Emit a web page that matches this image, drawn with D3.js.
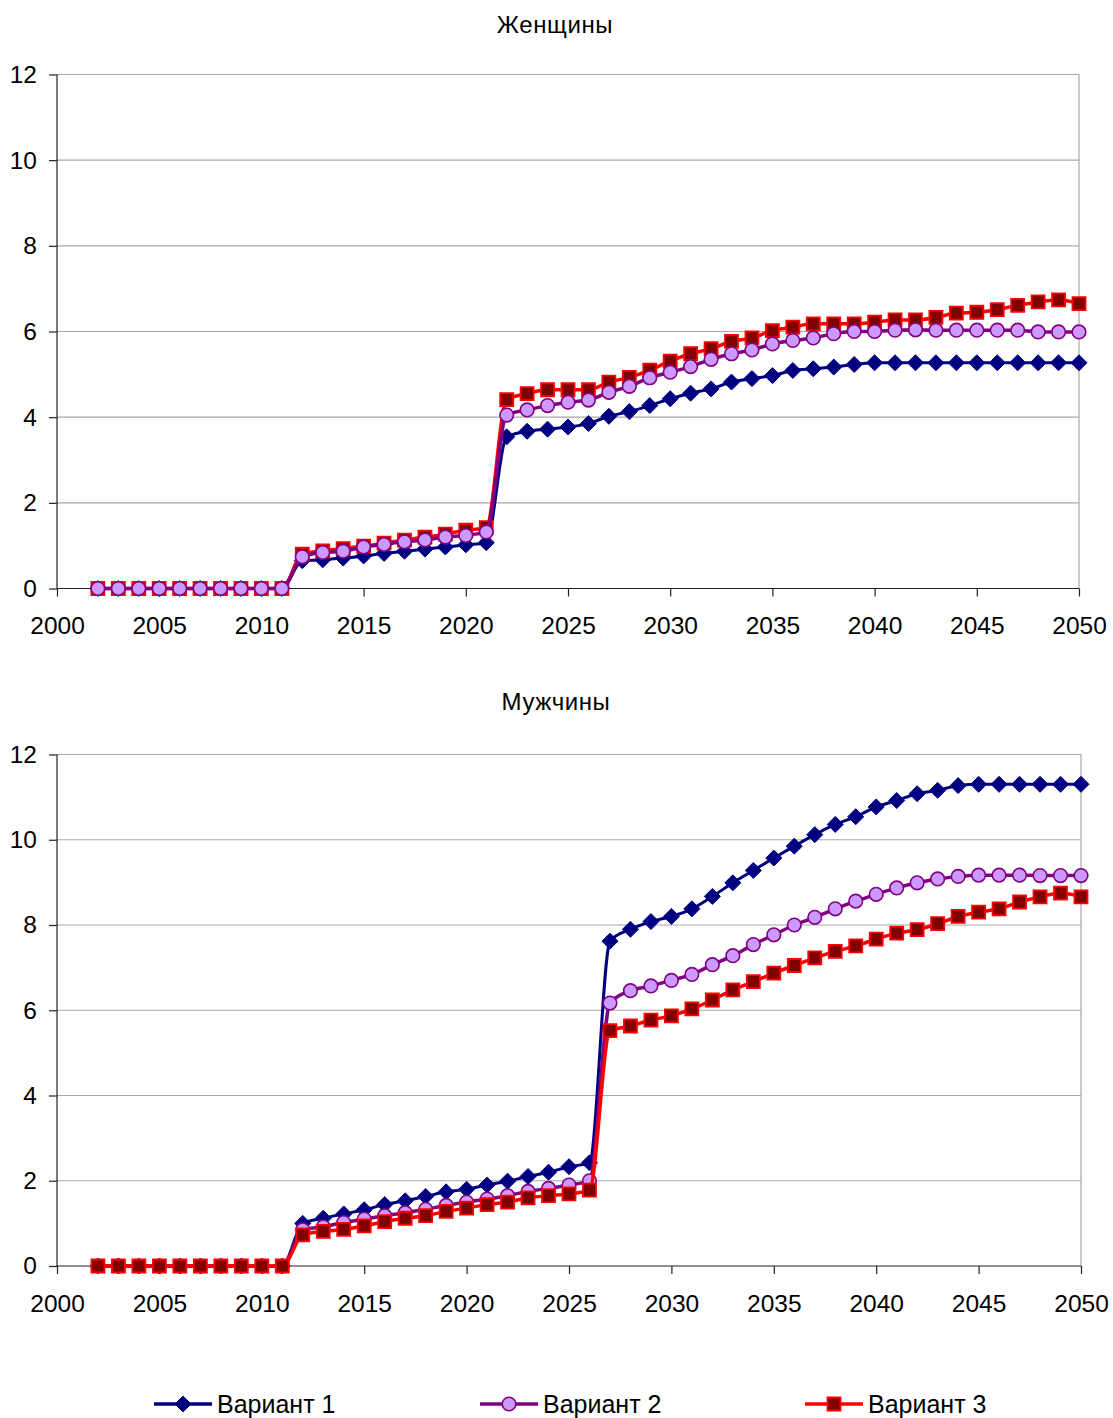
<!DOCTYPE html>
<html>
<head>
<meta charset="utf-8">
<script src="https://cdn.jsdelivr.net/npm/d3@7"></script>
<style>
  html, body { margin: 0; padding: 0; background: #fff; }
  svg { display: block; font-family: "Liberation Sans", Arial, sans-serif; }
</style>
</head>
<body>
<svg id="chart" width="1113" height="1418"></svg>
<script>
// Years on the horizontal axis
const years = [2002, 2003, 2004, 2005, 2006, 2007, 2008, 2009, 2010, 2011,
  2012, 2013, 2014, 2015, 2016, 2017, 2018, 2019, 2020, 2021,
  2022, 2023, 2024, 2025, 2026, 2027, 2028, 2029, 2030, 2031,
  2032, 2033, 2034, 2035, 2036, 2037, 2038, 2039, 2040, 2041,
  2042, 2043, 2044, 2045, 2046, 2047, 2048, 2049, 2050];

const xTicks = [2000, 2005, 2010, 2015, 2020, 2025, 2030, 2035, 2040, 2045, 2050];
const yTicks = [0, 2, 4, 6, 8, 10, 12];

const seriesNames = ["Вариант 1", "Вариант 2", "Вариант 3"];
const panelTitles = ["Женщины", "Мужчины"];

// Women
const women1 = [0, 0, 0, 0, 0, 0, 0, 0, 0, 0,
  0.65, 0.67, 0.71, 0.76, 0.82, 0.87, 0.92, 0.97, 1.02, 1.07,
  3.54, 3.67, 3.72, 3.77, 3.85, 4.02, 4.13, 4.27, 4.43, 4.56,
  4.66, 4.82, 4.90, 4.97, 5.09, 5.13, 5.17, 5.23, 5.27, 5.27,
  5.27, 5.27, 5.27, 5.27, 5.27, 5.27, 5.27, 5.27, 5.27];
const women2 = [0, 0, 0, 0, 0, 0, 0, 0, 0, 0,
  0.74, 0.84, 0.87, 0.97, 1.03, 1.09, 1.13, 1.20, 1.24, 1.32,
  4.05, 4.17, 4.27, 4.35, 4.40, 4.58, 4.72, 4.92, 5.05, 5.18,
  5.35, 5.48, 5.57, 5.71, 5.79, 5.85, 5.95, 6.00, 6.00, 6.03,
  6.04, 6.03, 6.03, 6.03, 6.03, 6.03, 5.99, 5.99, 5.99];
const women3 = [0, 0, 0, 0, 0, 0, 0, 0, 0, 0,
  0.80, 0.88, 0.93, 0.99, 1.06, 1.13, 1.20, 1.27, 1.36, 1.42,
  4.41, 4.55, 4.64, 4.64, 4.64, 4.82, 4.93, 5.10, 5.31, 5.48,
  5.60, 5.77, 5.85, 6.02, 6.10, 6.18, 6.18, 6.18, 6.22, 6.27,
  6.27, 6.33, 6.43, 6.45, 6.51, 6.61, 6.69, 6.74, 6.65];

// Men
const men1 = [0, 0, 0, 0, 0, 0, 0, 0, 0, 0,
  1.00, 1.12, 1.22, 1.32, 1.44, 1.53, 1.63, 1.74, 1.80, 1.90,
  1.99, 2.10, 2.20, 2.33, 2.42, 7.62, 7.90, 8.08, 8.20, 8.38,
  8.67, 8.99, 9.28, 9.57, 9.85, 10.12, 10.36, 10.54, 10.77, 10.92,
  11.08, 11.16, 11.27, 11.30, 11.30, 11.30, 11.30, 11.30, 11.30];
const men2 = [0, 0, 0, 0, 0, 0, 0, 0, 0, 0,
  0.85, 0.92, 1.02, 1.10, 1.18, 1.25, 1.33, 1.42, 1.50, 1.57,
  1.65, 1.75, 1.82, 1.90, 2.00, 6.17, 6.46, 6.57, 6.70, 6.84,
  7.07, 7.28, 7.54, 7.77, 8.00, 8.18, 8.38, 8.56, 8.72, 8.87,
  8.99, 9.08, 9.14, 9.17, 9.17, 9.17, 9.16, 9.16, 9.16];
const men3 = [0, 0, 0, 0, 0, 0, 0, 0, 0, 0,
  0.73, 0.81, 0.86, 0.94, 1.04, 1.12, 1.18, 1.28, 1.36, 1.44,
  1.50, 1.60, 1.65, 1.69, 1.78, 5.52, 5.63, 5.77, 5.87, 6.03,
  6.24, 6.48, 6.67, 6.87, 7.05, 7.23, 7.38, 7.51, 7.67, 7.81,
  7.89, 8.03, 8.20, 8.30, 8.38, 8.54, 8.66, 8.75, 8.66];

// Series styling: line colour, marker fill, marker stroke, marker kind
const styles = [
  { line: "#000080", fill: "#000080", stroke: "#000080", kind: "diamond", width: 3 },
  { line: "#800080", fill: "#CC99FF", stroke: "#800080", kind: "circle", width: 3.5 },
  { line: "#FF0000", fill: "#800000", stroke: "#FF0000", kind: "square", width: 3.5 }
];

const svg = d3.select("#chart");

function markerPath(kind) {
  if (kind === "diamond") return "M0,-8L8,0L0,8L-8,0Z";
  if (kind === "square") return "M-6.5,-6.5H6.5V6.5H-6.5Z";
  return null;
}

function drawMarker(g, kind, st, x, y) {
  if (kind === "circle") {
    g.append("circle").attr("cx", x).attr("cy", y).attr("r", 6.8)
      .attr("fill", st.fill).attr("stroke", st.stroke).attr("stroke-width", 1.6);
  } else {
    g.append("path").attr("d", markerPath(kind))
      .attr("transform", `translate(${x},${y})`)
      .attr("fill", st.fill).attr("stroke", st.stroke)
      .attr("stroke-width", kind === "square" ? 1.8 : 1);
  }
}

function drawPanel(cfg) {
  const x = d3.scaleLinear().domain([2000, 2050]).range([cfg.left, cfg.right]);
  const y = d3.scaleLinear().domain([0, 12]).range([cfg.bottom, cfg.top]);
  const g = svg.append("g");

  // title
  g.append("text").attr("x", cfg.titleX).attr("y", cfg.titleY)
    .attr("text-anchor", "middle").attr("font-size", 24).attr("fill", "#000")
    .attr("letter-spacing", 0.6)
    .text(cfg.title);

  // horizontal grid lines
  g.append("g").selectAll("line").data(yTicks.filter(d => d > 0)).join("line")
    .attr("x1", cfg.left).attr("x2", cfg.right)
    .attr("y1", d => y(d)).attr("y2", d => y(d))
    .attr("stroke", "#a8a8a8").attr("stroke-width", 1.2);

  // right border of the plot area
  g.append("line").attr("x1", cfg.right).attr("x2", cfg.right)
    .attr("y1", cfg.top).attr("y2", cfg.bottom)
    .attr("stroke", "#a8a8a8").attr("stroke-width", 1.2);

  // axes
  const xAxis = d3.axisBottom(x).tickValues(xTicks).tickFormat(d3.format("d"))
    .tickSize(8).tickPadding(18);
  const gx = g.append("g").attr("transform", `translate(0,${cfg.bottom})`).call(xAxis);
  const yAxis = d3.axisLeft(y).tickValues(yTicks).tickSize(8).tickPadding(12);
  const gy = g.append("g").attr("transform", `translate(${cfg.left},0)`).call(yAxis);
  [gx, gy].forEach(a => {
    a.select(".domain").attr("stroke", "#222").attr("stroke-width", 1.2);
    a.selectAll(".tick line").attr("stroke", "#222").attr("stroke-width", 1.2);
    a.selectAll(".tick text").attr("font-size", 24.5).attr("fill", "#000")
      .attr("font-family", "Liberation Sans, Arial, sans-serif");
  });
  gx.select(".domain").attr("d", `M${cfg.left},0H${cfg.right}`);
  gy.select(".domain").attr("d", `M0,${cfg.top}V${cfg.bottom}`);
  gx.selectAll(".tick text").attr("dy", "0.8em");

  const line = d3.line().x((d, i) => x(years[i])).y(d => y(d))
    .curve(d3.curveMonotoneX);

  cfg.order.forEach(si => {
    const st = styles[si];
    const vals = cfg.series[si];
    const sg = g.append("g");
    sg.append("path").datum(vals).attr("d", line)
      .attr("fill", "none").attr("stroke", st.line)
      .attr("stroke-width", st.width).attr("stroke-linejoin", "round");
    vals.forEach((v, i) => drawMarker(sg, st.kind, st, x(years[i]), y(v)));
  });
}

drawPanel({
  title: panelTitles[0], titleX: 555, titleY: 33,
  left: 57, right: 1079, top: 74.5, bottom: 588.5,
  series: [women1, women2, women3], order: [0, 2, 1]
});

drawPanel({
  title: panelTitles[1], titleX: 556, titleY: 710,
  left: 57, right: 1081, top: 754.5, bottom: 1266,
  series: [men1, men2, men3], order: [0, 1, 2]
});

// legend
const legendX = [154, 480, 805];
const legend = svg.append("g");
seriesNames.forEach((name, i) => {
  const st = styles[i];
  const lx = legendX[i];
  const ly = 1404;
  legend.append("line").attr("x1", lx).attr("x2", lx + 58)
    .attr("y1", ly).attr("y2", ly)
    .attr("stroke", st.line).attr("stroke-width", 3.5);
  drawMarker(legend, st.kind, st, lx + 29, ly);
  legend.append("text").attr("x", lx + 63).attr("y", ly + 8.5)
    .attr("font-size", 25).attr("fill", "#000").text(name);
});
</script>
</body>
</html>
